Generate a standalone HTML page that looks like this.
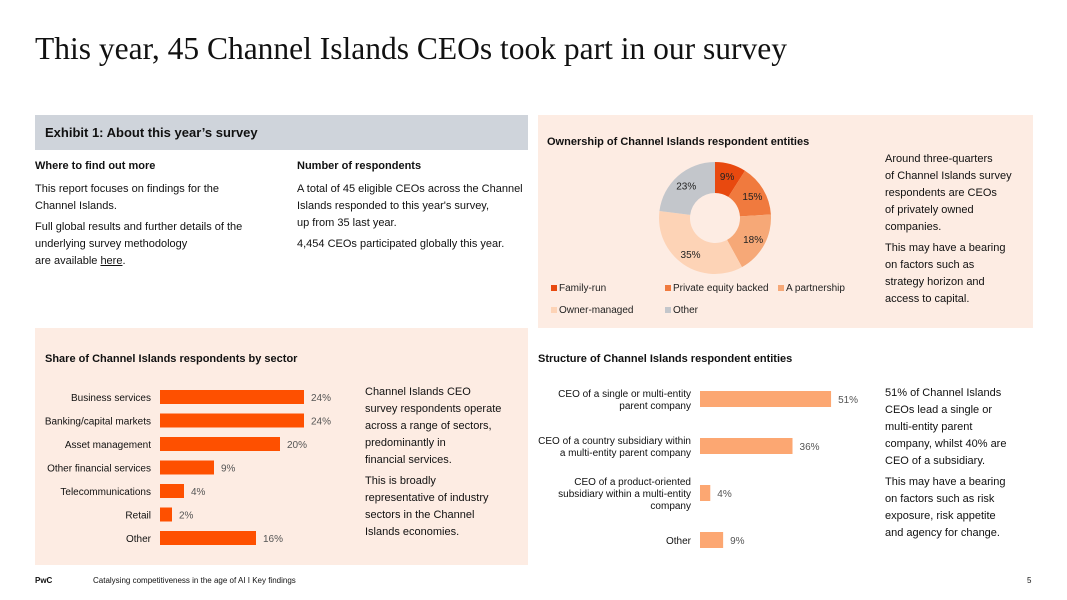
<!DOCTYPE html>
<html><head><meta charset="utf-8"><style>
body{margin:0;width:1067px;height:600px;position:relative;background:#fff;font-family:"Liberation Sans",sans-serif;color:#111;overflow:hidden}
.a{position:absolute}
.t{font-size:11px;line-height:17px}
.b{font-weight:bold}
p{margin:0}
</style></head><body>
<div class="a" style="left:35px;top:31px;font-family:'Liberation Serif',serif;font-size:31.5px;white-space:nowrap">This year, 45 Channel Islands CEOs took part in our survey</div>

<div class="a" style="left:35px;top:115px;width:493px;height:35px;background:#cfd4db"></div>
<div class="a b" style="left:45px;top:125px;font-size:13px">Exhibit 1: About this year’s survey</div>

<div class="a t" style="left:35px;top:158px;width:240px">
<p class="b" style="margin-bottom:6px">Where to find out more</p>
<p style="margin-bottom:4px">This report focuses on findings for the<br>Channel Islands.</p>
<p>Full global results and further details of the<br>underlying survey methodology<br>are available <u>here</u>.</p>
</div>
<div class="a t" style="left:297px;top:158px;width:240px">
<p class="b" style="margin-bottom:6px">Number of respondents</p>
<p style="margin-bottom:4px">A total of 45 eligible CEOs across the Channel<br>Islands responded to this year's survey,<br>up from 35 last year.</p>
<p>4,454 CEOs participated globally this year.</p>
</div>

<div class="a" style="left:538px;top:115px;width:495px;height:213px;background:#fdece3"></div>
<div class="a b" style="left:547px;top:136px;font-size:11px">Ownership of Channel Islands respondent entities</div>
<div class="a t" style="left:885px;top:151px;width:140px">
<p style="margin-bottom:4px">Around three-quarters<br>of Channel Islands survey<br>respondents are CEOs<br>of privately owned<br>companies.</p>
<p>This may have a bearing<br>on factors such as<br>strategy horizon and<br>access to capital.</p>
</div>
<svg class="a" id="donut" style="left:538px;top:115px" width="495" height="213"></svg>

<div class="a" style="left:35px;top:328px;width:493px;height:237px;background:#fdece3"></div>
<div class="a b" style="left:45px;top:353px;font-size:11px">Share of Channel Islands respondents by sector</div>
<svg class="a" id="sector" style="left:35px;top:328px" width="320" height="237"></svg>
<div class="a t" style="left:365px;top:384px;width:160px">
<p style="margin-bottom:4px">Channel Islands CEO<br>survey respondents operate<br>across a range of sectors,<br>predominantly in<br>financial services.</p>
<p>This is broadly<br>representative of industry<br>sectors in the Channel<br>Islands economies.</p>
</div>

<div class="a b" style="left:538px;top:353px;font-size:11px">Structure of Channel Islands respondent entities</div>
<svg class="a" id="structure" style="left:535px;top:375px" width="340" height="185"></svg>
<div class="a t" style="left:885px;top:385px;width:145px">
<p style="margin-bottom:4px">51% of Channel Islands<br>CEOs lead a single or<br>multi-entity parent<br>company, whilst 40% are<br>CEO of a subsidiary.</p>
<p>This may have a bearing<br>on factors such as risk<br>exposure, risk appetite<br>and agency for change.</p>
</div>

<div class="a b" style="left:35px;top:576px;font-size:8px">PwC</div>
<div class="a" style="left:93px;top:576px;font-size:8px">Catalysing competitiveness in the age of AI I Key findings</div>
<div class="a" style="left:1027px;top:576px;font-size:8px">5</div>

<script>
const NS="http://www.w3.org/2000/svg";
function mk(p,tag,at,txt){const e=document.createElementNS(NS,tag);for(const k in at)e.setAttribute(k,at[k]);if(txt!=null)e.textContent=txt;p.appendChild(e);return e;}

// ownership donut
const ownCats=["Family-run","Private equity backed","A partnership","Owner-managed","Other"];
const ownVals=[9,15,18,35,23];
const ownColors=["#e8490f","#f07a3e","#f6a877","#fdd3b6","#c3c6cb"];
const d=document.getElementById('donut');
{const cx=177,cy=103,R=56,r=25;let tot=ownVals.reduce((a,b)=>a+b,0),acc=0;
ownVals.forEach((v,i)=>{const a0=acc/tot*2*Math.PI,a1=(acc+v)/tot*2*Math.PI;acc+=v;
const P=(rad,a)=>[cx+rad*Math.sin(a),cy-rad*Math.cos(a)];const lg=(a1-a0)>Math.PI?1:0;
const [x0,y0]=P(R,a0),[x1,y1]=P(R,a1),[x2,y2]=P(r,a1),[x3,y3]=P(r,a0);
const s=mk(d,'path',{d:`M${x0},${y0}A${R},${R} 0 ${lg} 1 ${x1},${y1}L${x2},${y2}A${r},${r} 0 ${lg} 0 ${x3},${y3}Z`,fill:ownColors[i]});


const am=(a0+a1)/2,[lx,ly]=P((R+r)/2+3,am);
const t=mk(d,'text',{x:lx,y:ly+4,'text-anchor':'middle','font-size':10,fill:'#222'},v+'%');

});
const lp=[[13,176],[127,176],[240,176],[13,198],[127,198]];
ownCats.forEach((c,i)=>{const g=mk(d,'g',{});


mk(g,'rect',{x:lp[i][0],y:lp[i][1]-6,width:6,height:6,fill:ownColors[i]});
mk(g,'text',{x:lp[i][0]+8,y:lp[i][1],'font-size':10,fill:'#222'},c);});}

// sector bars
const secCats=["Business services","Banking/capital markets","Asset management","Other financial services","Telecommunications","Retail","Other"];
const secVals=[24,24,20,9,4,2,16];
const s=document.getElementById('sector');
{const x0=125,k=6.0,y0=69,step=23.5,h=14;
secCats.forEach((c,i)=>{const y=y0+i*step;
const b=mk(s,'rect',{x:x0,y:y-h/2,width:secVals[i]*k,height:h,fill:'#fe5000'});


mk(s,'text',{x:x0-9,y:y+4,'text-anchor':'end','font-size':10,fill:'#111'},c);
mk(s,'text',{x:x0+secVals[i]*k+7,y:y+4,'font-size':10,fill:'#555'},secVals[i]+'%');});}

// structure bars
const stCats=[["CEO of a single or multi-entity","parent company"],["CEO of a country subsidiary within","a multi-entity parent company"],["CEO of a product-oriented","subsidiary within a multi-entity","company"],["Other"]];
const stVals=[51,36,4,9];
const st=document.getElementById('structure');
{const x0=165,k=2.57,y0=24,step=47,h=16;
stCats.forEach((c,i)=>{const y=y0+i*step;
const b=mk(st,'rect',{x:x0,y:y-h/2,width:stVals[i]*k,height:h,fill:'#fca772'});


const n=c.length;c.forEach((ln,j)=>{mk(st,'text',{x:x0-9,y:y+4+(j-(n-1)/2)*12,'text-anchor':'end','font-size':10,fill:'#111'},ln);});
mk(st,'text',{x:x0+stVals[i]*k+7,y:y+4,'font-size':10,fill:'#555'},stVals[i]+'%');});}
</script>
</body></html>
